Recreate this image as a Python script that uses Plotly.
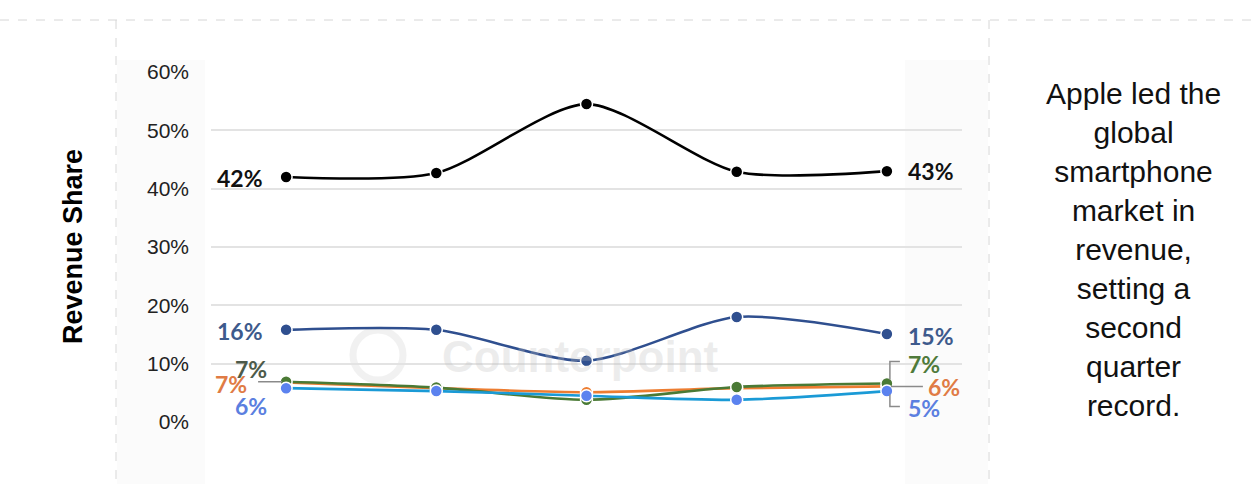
import plotly.graph_objects as go

quarters = ["Q2 2019", "Q2 2020", "Q2 2021", "Q2 2022", "Q2 2023"]
apple = [42.0, 42.7, 54.5, 42.9, 43.0]
samsung = [15.8, 15.8, 10.5, 18.0, 15.1]
oppo = [6.9, 5.9, 3.8, 6.0, 6.6]
xiaomi = [6.8, 5.8, 5.1, 5.8, 6.1]
vivo = [5.8, 5.3, 4.5, 3.8, 5.3]

apple_lbl = ["42%", "43%"]
samsung_lbl = ["16%", "15%"]
oppo_lbl = ["7%", "7%"]
xiaomi_lbl = ["7%", "6%"]
vivo_lbl = ["6%", "5%"]

y_ticks = [0, 10, 20, 30, 40, 50, 60]
y_title = "Revenue Share"
side_text = ["Apple led the", "global", "smartphone", "market in", "revenue,",
             "setting a", "second", "quarter", "record."]
watermark = "Counterpoint"

W, H = 1260, 484
L, R, T, B = 211, 298, 72, 62
pw, ph = W - L - R, H - T - B

def px_x(p):
    return (p - L) / pw

def px_y(p):
    return (H - B - p) / ph

fig = go.Figure()

series = [
    ("Xiaomi", xiaomi, "#ed7d31", "#ed7d31"),
    ("OPPO", oppo, "#4a7a35", "#4a7a35"),
    ("vivo", vivo, "#1a9ad6", "#5b82ef"),
    ("Samsung", samsung, "#2f4f8f", "#2f4f8f"),
    ("Apple", apple, "#000000", "#000000"),
]
for name, vals, lc, mc in series:
    fig.add_trace(go.Scatter(
        x=quarters, y=[v / 100 for v in vals], name=name, mode="lines+markers",
        line=dict(color=lc, width=2.6, shape="spline", smoothing=0.75),
        marker=dict(color=mc, size=12, line=dict(color="white", width=1.5)),
        cliponaxis=False, showlegend=False, hoverinfo="skip"))

lab_font = "Lato"
def label(xi, val, text, color, side, xshift, yshift):
    fig.add_annotation(x=quarters[xi], y=val / 100, text=text, showarrow=False,
                       xanchor="right" if side == "l" else "left", yanchor="middle",
                       xshift=xshift, yshift=yshift,
                       font=dict(family=lab_font, size=23, color=color, weight="bold"))

label(0, apple[0], apple_lbl[0], "#111111", "l", -21, -1)
label(4, apple[4], apple_lbl[1], "#111111", "r", 19, 0)
label(0, samsung[0], samsung_lbl[0], "#3d5a8c", "l", -21, -1)
label(4, samsung[4], samsung_lbl[1], "#3d5a8c", "r", 19, -2)
label(0, oppo[0], oppo_lbl[0], "#4d5a4a", "l", -17, 13)
label(0, xiaomi[0], xiaomi_lbl[0], "#e07b45", "l", -37, -2)
label(0, vivo[0], vivo_lbl[0], "#5b7fe0", "l", -17, -18)
label(4, oppo[4], oppo_lbl[1], "#4f7a3a", "r", 19, 20)
label(4, xiaomi[4], xiaomi_lbl[1], "#e07b45", "r", 39, -1)
label(4, vivo[4], vivo_lbl[1], "#5b7fe0", "r", 19, -17)

lead = dict(color="#8a8a8a", width=1.5)
def leader(xi, val, pts):
    path = "M " + " L ".join(f"{a},{b}" for a, b in pts)
    fig.add_shape(type="path", xref="x", yref="y", xsizemode="pixel", ysizemode="pixel",
                  xanchor=quarters[xi], yanchor=val / 100, path=path, line=lead)

leader(4, xiaomi[4], [(3, 7), (3, 25), (13, 25)])
leader(4, xiaomi[4], [(3, -8), (3, -20), (13, -20)])
leader(4, xiaomi[4], [(4, 0), (36, 0)])
leader(0, oppo[0], [(-28, 0), (-4, 0)])

# watermark
fig.add_shape(type="circle", xref="paper", yref="paper",
              x0=px_x(353), x1=px_x(403), y0=px_y(380), y1=px_y(330),
              line=dict(color="rgba(200,200,200,0.25)", width=7), layer="below")
fig.add_annotation(xref="paper", yref="paper", x=px_x(580), y=px_y(356), text=watermark,
                   showarrow=False, xanchor="center", yanchor="middle",
                   font=dict(family="Liberation Sans", size=44,
                   color="rgba(190,190,190,0.28)", weight="bold"))

# side shading and dashed frame
fig.add_shape(type="rect", xref="paper", yref="paper", x0=px_x(117), x1=px_x(205),
              y0=px_y(484), y1=px_y(60), fillcolor="#fbfbfb", line_width=0, layer="below")
fig.add_shape(type="rect", xref="paper", yref="paper", x0=px_x(905), x1=px_x(988),
              y0=px_y(484), y1=px_y(60), fillcolor="#fbfbfb", line_width=0, layer="below")
dash = dict(color="#d6d6d6", width=1, dash="dash")
fig.add_shape(type="line", xref="paper", yref="paper", x0=px_x(0), x1=px_x(1260),
              y0=px_y(20), y1=px_y(20), line=dash)
fig.add_shape(type="line", xref="paper", yref="paper", x0=px_x(116), x1=px_x(116),
              y0=px_y(20), y1=px_y(484), line=dash)
fig.add_shape(type="line", xref="paper", yref="paper", x0=px_x(989), x1=px_x(989),
              y0=px_y(20), y1=px_y(484), line=dash)

fig.add_annotation(xref="paper", yref="paper", x=px_x(73), y=px_y(247), text=y_title,
                   textangle=-90, showarrow=False, xanchor="center", yanchor="middle",
                   font=dict(family="Liberation Sans", size=27, color="#000", weight="bold"))
fig.add_annotation(xref="paper", yref="paper", x=px_x(1133), y=px_y(249),
                   text="<br>".join(side_text), showarrow=False, align="center",
                   xanchor="center", yanchor="middle",
                   font=dict(family="Liberation Sans", size=30, color="#111"))

fig.update_layout(
    width=W, height=H, margin=dict(l=L, r=R, t=T, b=B),
    paper_bgcolor="white", plot_bgcolor="white",
    xaxis=dict(showticklabels=False, showgrid=False, zeroline=False, showline=False,
               range=[-0.5, 4.5]),
    yaxis=dict(range=[0, 0.6], tickvals=[v / 100 for v in y_ticks], tickformat=".0%",
               showgrid=True, gridcolor="#e3e3e3", gridwidth=1.5, zeroline=False,
               showline=False, ticklabelstandoff=21,
               tickfont=dict(family="Liberation Sans", size=21, color="#222")),
)
fig.write_html("out.html", config={"displayModeBar": False},
               post_script="document.body.style.margin='0';")
